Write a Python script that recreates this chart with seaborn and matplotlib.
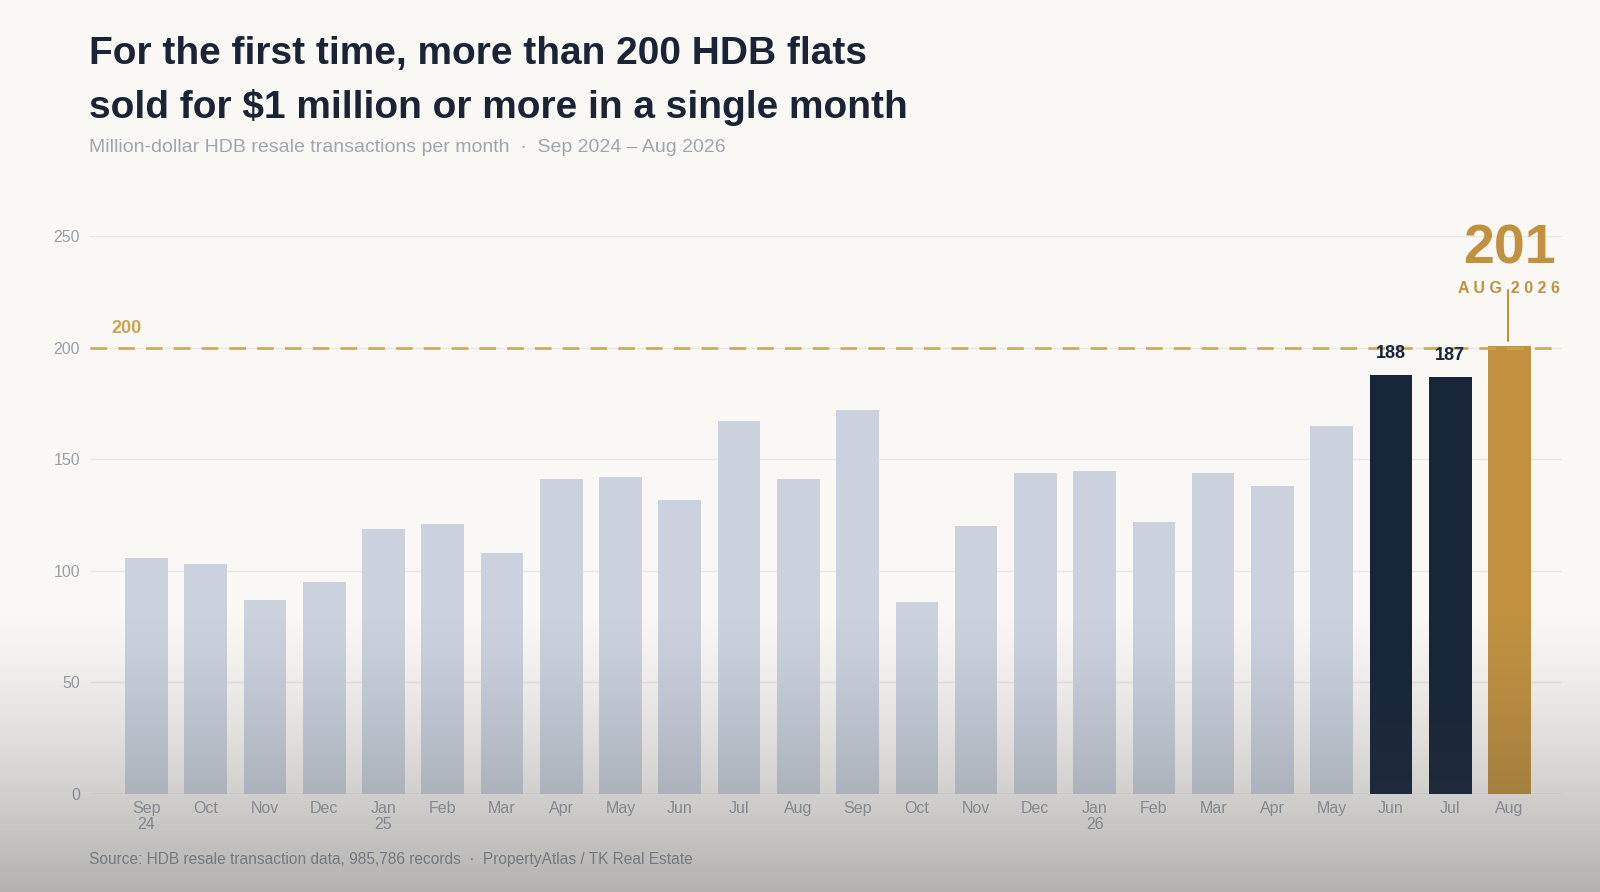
import numpy as np
import pandas as pd
import matplotlib
matplotlib.use("Agg")
import matplotlib.pyplot as plt
import seaborn as sns

# Monthly million-dollar HDB resale transactions, Sep 2024 - Aug 2026
months = ["Sep\n24", "Oct", "Nov", "Dec", "Jan\n25", "Feb", "Mar", "Apr", "May", "Jun", "Jul", "Aug",
          "Sep", "Oct", "Nov", "Dec", "Jan\n26", "Feb", "Mar", "Apr", "May", "Jun", "Jul", "Aug"]
counts = [106, 103, 87, 95, 119, 121, 108, 141, 142, 132, 167, 141,
          172, 86, 120, 144, 145, 122, 144, 138, 165, 188, 187, 201]
highlight = ["base"] * 21 + ["recent", "recent", "record"]
threshold = 200

BG = "#f9f8f5"
LIGHT = "#cbd2de"
NAVY = "#16253a"
GOLD = "#c1913f"
DASH = "#c9a550"
GREY = "#9aa0a8"

sns.set_theme(style="white")
plt.rcParams["font.family"] = ["Liberation Sans", "DejaVu Sans"]

df = pd.DataFrame({"pos": range(len(counts)), "count": counts, "kind": highlight})
palette = [LIGHT if k == "base" else (NAVY if k == "recent" else GOLD) for k in highlight]

fig = plt.figure(figsize=(16, 8.92), dpi=100, facecolor=BG)
ax = fig.add_axes([0.056, 0.110, 0.920, 0.625])
ax.set_facecolor(BG)

sns.barplot(data=df, x="pos", y="count", hue="pos", palette=palette, legend=False,
            width=0.72, saturation=1, linewidth=0, ax=ax, zorder=3)

ax.set_xlim(-0.96, len(counts) - 0.12)
ax.set_ylim(0, 250)
ax.set_yticks([0, 50, 100, 150, 200, 250])
ax.yaxis.grid(True, color="#e9e8e5", lw=1)
ax.set_axisbelow(True)
ax.set_xticks(range(len(months)))
ax.set_xticklabels(months, linespacing=1.1)
ax.tick_params(axis="both", length=0, labelsize=11.5, colors=GREY)
ax.tick_params(axis="x", pad=5)
ax.tick_params(axis="y", pad=7)
ax.set_xlabel("")
ax.set_ylabel("")
for s in ax.spines.values():
    s.set_visible(False)
ax.axhline(0, color="#dcdcd8", lw=1, zorder=2)

# 200 threshold
ax.axhline(threshold, color=DASH, lw=2, ls=(0, (6, 4)), alpha=0.9, zorder=4)
ax.text(-0.6, threshold + 8.5, "200", color=DASH, fontsize=13, fontweight="bold",
        va="center", ha="left")

# value labels for Jun / Jul
for i in (21, 22):
    ax.text(i, counts[i] + 9.5, str(counts[i]), color=NAVY, fontsize=13, fontweight="bold",
            ha="center", va="center", zorder=6)

# record callout
last = len(counts) - 1
ax.text(last, 244, str(counts[last]), color=GOLD, fontsize=40, fontweight="bold",
        ha="center", va="center", clip_on=False)
ax.text(last, 226.5, "A U G  2 0 2 6", color=GOLD, fontsize=11.5, fontweight="bold",
        ha="center", va="center", clip_on=False)
ax.plot([last - 0.02, last - 0.02], [203, 226], color=GOLD, lw=1.5, clip_on=False, zorder=5)

fig.text(0.0555, 0.940, "For the first time, more than 200 HDB flats", color="#1a2434",
         fontsize=28, fontweight="bold", va="center", ha="left")
fig.text(0.0555, 0.880, "sold for $1 million or more in a single month", color="#1a2434",
         fontsize=28, fontweight="bold", va="center", ha="left")
fig.text(0.0555, 0.835, "Million-dollar HDB resale transactions per month  \u00b7  Sep 2024 \u2013 Aug 2026",
         color="#a0a5ae", fontsize=14, va="center", ha="left")
fig.text(0.0555, 0.036, "Source: HDB resale transaction data, 985,786 records  \u00b7  PropertyAtlas / TK Real Estate",
         color="#8f949b", fontsize=11.2, va="center", ha="left")

# soft dark fade at the bottom of the frame
ov = fig.add_axes([0, 0, 1, 0.32], zorder=10)
ov.axis("off")
t = np.linspace(0, 1, 256)[:, None]
alpha = 0.38 * (1 - t) ** 1.3
rgba = np.zeros((256, 2, 4))
rgba[..., :3] = 0.25
rgba[..., 3] = np.repeat(alpha, 2, axis=1)
ov.imshow(rgba, aspect="auto", origin="lower", extent=[0, 1, 0, 1])

fig.savefig("out.png", dpi=100, facecolor=BG)
